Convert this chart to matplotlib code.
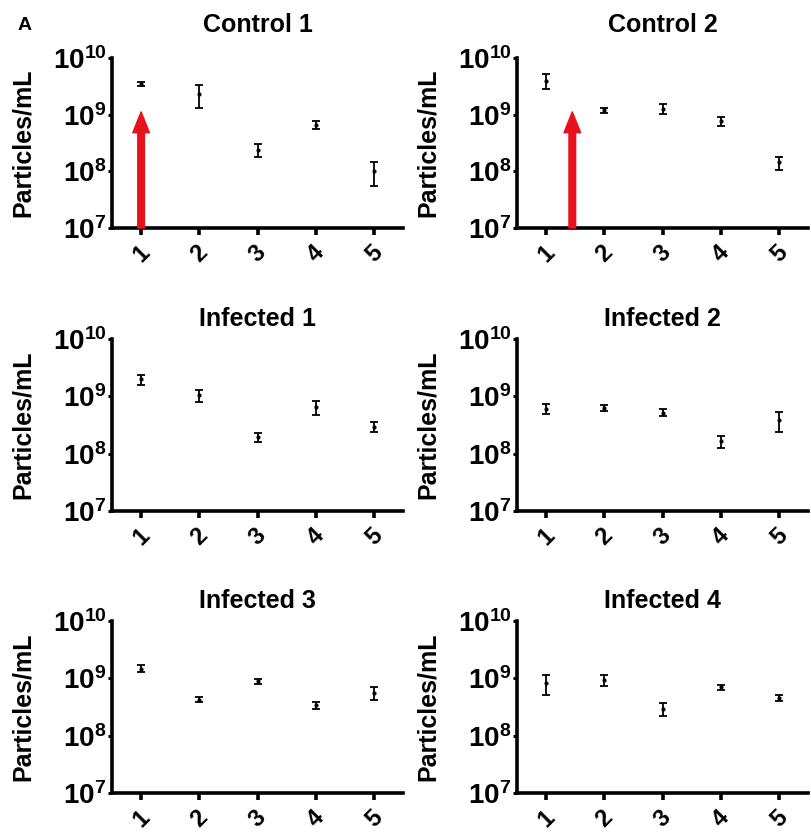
import numpy as np
import matplotlib
matplotlib.use("Agg")
import matplotlib.pyplot as plt
from matplotlib.ticker import LogLocator, NullLocator, LogFormatterSciNotation

plt.rcParams["font.family"] = ["Liberation Sans", "DejaVu Sans"]
plt.rcParams["font.weight"] = "bold"
plt.rcParams["mathtext.fontset"] = "custom"
plt.rcParams["mathtext.rm"] = "Liberation Sans:bold"
plt.rcParams["mathtext.bf"] = "Liberation Sans:bold"
plt.rcParams["mathtext.default"] = "bf"

##########################

samples = [1, 2, 3, 4, 5]
xlabels = ["1", "2", "3", "4", "5"]

titles = ["Control 1", "Control 2", "Infected 1", "Infected 2", "Infected 3", "Infected 4"]

control1_mean = [3.5e9, 2.3e9, 2.4e8, 6.6e8, 1.0e8]
control1_err = [0.3e9, 1.0e9, 0.6e8, 1.1e8, 0.45e8]

control2_mean = [4.0e9, 1.21e9, 1.27e9, 7.8e8, 1.44e8]
control2_err = [1.2e9, 0.12e9, 0.25e9, 1.4e8, 0.37e8]

infected1_mean = [2.0e9, 1.05e9, 1.97e8, 6.6e8, 2.95e8]
infected1_err = [0.4e9, 0.25e9, 0.35e8, 1.8e8, 0.55e8]

infected2_mean = [6.1e8, 6.3e8, 5.2e8, 1.67e8, 3.8e8]
infected2_err = [1.2e8, 0.7e8, 0.7e8, 0.4e8, 1.45e8]

infected3_mean = [1.48e9, 4.25e8, 8.9e8, 3.38e8, 5.6e8]
infected3_err = [0.2e9, 0.45e8, 0.9e8, 0.45e8, 1.4e8]

infected4_mean = [8.3e8, 9.3e8, 2.95e8, 6.95e8, 4.5e8]
infected4_err = [3.2e8, 2.0e8, 0.75e8, 0.65e8, 0.55e8]

means = [control1_mean, control2_mean, infected1_mean, infected2_mean, infected3_mean, infected4_mean]
errs = [control1_err, control2_err, infected1_err, infected2_err, infected3_err, infected4_err]

# red arrows on the control panels: (x position, tip value)
arrow_x = [1.0, 1.45]
arrow_tip = [1.12e9, 1.12e9]

##########################

W, H = 811, 834
fig = plt.figure(figsize=(W / 100, H / 100), dpi=100)

col_left = [112, 517]
row_top = [58, 339, 621]
row_bot = [228, 511, 793]
ax_w = 291
title_pad = [19, 9, 9]
red = "#e8121c"

for i in range(6):
    r, c = i // 2, i % 2
    ax = fig.add_axes([col_left[c] / W, 1 - row_bot[r] / H, ax_w / W, (row_bot[r] - row_top[r]) / H])
    ax.set_yscale("log")
    ax.set_ylim(1e7, 1e10)
    ax.set_xlim(0.5, 5.5)
    lo = [min(e, m * 0.999) for m, e in zip(means[i], errs[i])]
    ax.errorbar(samples, means[i], yerr=[lo, errs[i]], fmt="o", ms=2, color="black",
                ecolor="black", elinewidth=1.3, capsize=3, capthick=1.3, zorder=3)

    ax.yaxis.set_major_locator(LogLocator(base=10, numticks=10))
    ax.yaxis.set_minor_locator(NullLocator())
    ax.yaxis.set_major_formatter(LogFormatterSciNotation())
    ax.set_xticks(samples)
    ax.set_xticklabels(xlabels, rotation=45, ha="center", va="top")

    for s in ["top", "right"]:
        ax.spines[s].set_visible(False)
    for s in ["left", "bottom"]:
        ax.spines[s].set_linewidth(2.6)
    ax.tick_params(axis="y", which="major", length=3, width=2.2, labelsize=20, pad=1)
    ax.tick_params(axis="x", which="major", length=5, width=2.6, labelsize=17, pad=4)

    ax.set_ylabel("Particles/mL", fontsize=18, fontweight="bold", labelpad=13)
    ax.set_title(titles[i], fontsize=18, fontweight="bold", pad=title_pad[r])

    if r == 0:
        ax.annotate("", xy=(arrow_x[c], arrow_tip[c]), xytext=(arrow_x[c], 1e7),
                    arrowprops=dict(width=4.8, headwidth=12, headlength=15,
                                    facecolor=red, edgecolor=red, shrink=0),
                    annotation_clip=False, zorder=4)

fig.text(25 / W, 1 - 25 / H, "A", fontsize=14, fontweight="bold", ha="center", va="center")

fig.savefig("out.png", dpi=100)
